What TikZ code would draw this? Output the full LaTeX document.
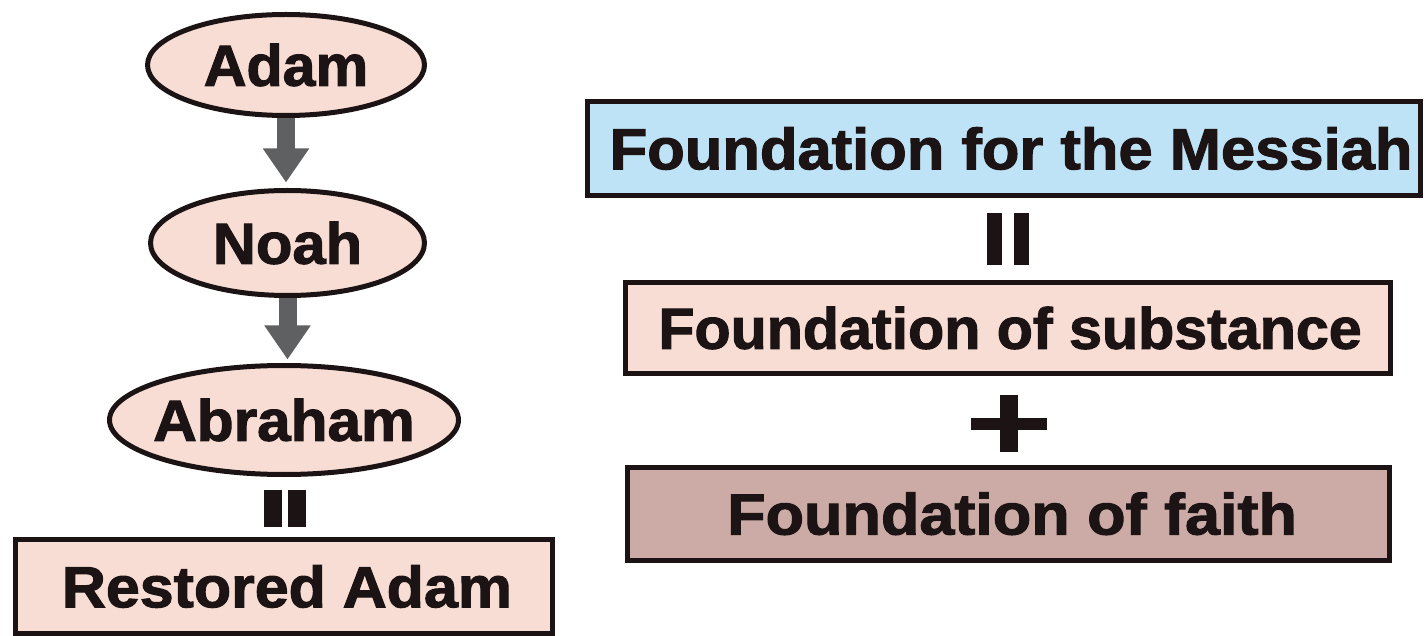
\documentclass[tikz,border=0pt]{standalone}
\usepackage{fontspec}
\setmainfont{Liberation Sans}[BoldFeatures={FakeBold=1.8}]
\usetikzlibrary{shapes.geometric,arrows.meta,backgrounds}
\definecolor{pinkfill}{HTML}{F8DDD5}
\definecolor{bluefill}{HTML}{BEE3F6}
\definecolor{faithfill}{HTML}{CCAAA5}
\definecolor{ink}{HTML}{1C1414}
\definecolor{arrowgray}{HTML}{5F6062}
\begin{document}
\begin{tikzpicture}[x=1pt,y=-1pt,
  lbl/.style={font=\fontsize{58}{58}\selectfont\bfseries, text=ink},
  oval/.style={ellipse, draw=ink, line width=5pt, fill=pinkfill, inner sep=0pt, lbl},
  rbox/.style={rectangle, draw=ink, line width=5pt, inner sep=0pt, lbl},
  flowarrow/.style={draw=arrowgray, line width=18pt, -{Triangle[length=34pt,width=44pt]}},
  bar/.style={fill=ink}]
\useasboundingbox (0,0) rectangle (1425,636);

% left column
\node[oval, minimum width=277pt, minimum height=101pt] (adam) at (286,65)
  {\makebox[0pt]{\scalebox{1.02}[1]{Adam}}};
\node[oval, minimum width=274pt, minimum height=105pt] (noah) at (287.5,243)
  {\makebox[0pt]{\scalebox{1.03}[1]{Noah}}};
\node[oval, minimum width=349pt, minimum height=109pt] (abraham) at (284,420)
  {\makebox[0pt]{\scalebox{1.04}[1]{Abraham}}};
\node[rbox, fill=pinkfill, minimum width=537.5pt, minimum height=94pt] (restored) at (284,586.5)
  {\makebox[0pt]{\hspace{6pt}\scalebox{1.05}[1]{Restored Adam}}};

\begin{scope}[on background layer]
  \draw[flowarrow, shorten >=5.5pt] (adam.south) -- (adam.south |- noah.north);
  \draw[flowarrow, shorten >=3.5pt] (noah.south) -- (noah.south |- abraham.north);
\end{scope}

% left equality bars
\fill[bar] (264,490) rectangle (282,527);
\fill[bar] (287.5,490) rectangle (305.5,527);

% right column
\node[rbox, fill=bluefill, minimum width=833pt, minimum height=94pt] (messiah) at (1004,148.5)
  {\makebox[0pt]{\hspace{14pt}\scalebox{1.06}[1]{Foundation for the Messiah}}};
\node[rbox, fill=pinkfill, minimum width=765pt, minimum height=91pt] (substance) at (1008,328)
  {\makebox[0pt]{\hspace{4pt}\scalebox{1.02}[1]{Foundation of substance}}};
\node[rbox, fill=faithfill, minimum width=762pt, minimum height=93.5pt] (faith) at (1008.5,513.75)
  {\makebox[0pt]{\hspace{7pt}\scalebox{1.085}[1]{Foundation of faith}}};

% right equality bars
\fill[bar] (987,213) rectangle (1001.5,265);
\fill[bar] (1014,213) rectangle (1028.5,265);

% plus sign
\fill[bar] (971,418) rectangle (1047,430);
\fill[bar] (1000,395) rectangle (1018,452);
\end{tikzpicture}
\end{document}
